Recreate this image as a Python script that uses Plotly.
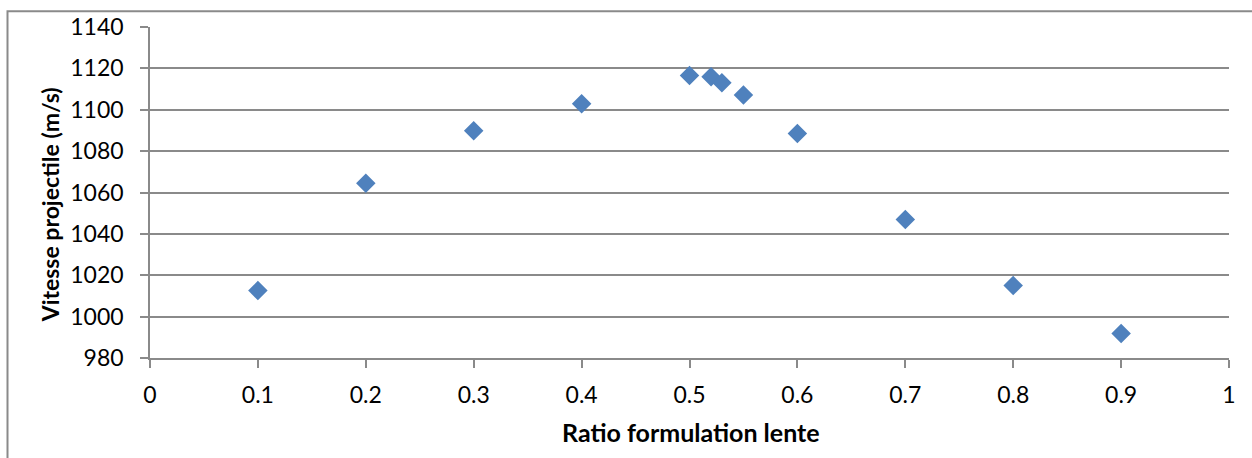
import plotly.graph_objects as go

# Data
ratio = [0.1, 0.2, 0.3, 0.4, 0.5, 0.52, 0.53, 0.55, 0.6, 0.7, 0.8, 0.9]
vitesse = [1012.6, 1064.5, 1089.8, 1102.9, 1116.6, 1116.0, 1113.1, 1107.1, 1088.5, 1046.9, 1015.0, 991.9]

x_ticks = [0, 0.1, 0.2, 0.3, 0.4, 0.5, 0.6, 0.7, 0.8, 0.9, 1]
x_tick_labels = ["0", "0.1", "0.2", "0.3", "0.4", "0.5", "0.6", "0.7", "0.8", "0.9", "1"]
y_ticks = [980, 1000, 1020, 1040, 1060, 1080, 1100, 1120, 1140]

x_title = "Ratio formulation lente"
y_title = "Vitesse projectile (m/s)"

W, H = 1252, 458
ML, MR, MT, MB = 150, 23, 22, 100
PW = W - ML - MR
PH = H - MT - MB

def px_x(p):
    return (p - ML) / PW

def px_y(p):
    return (H - MB - p) / PH

FONT = "Lato, 'Open Sans', 'Liberation Sans', sans-serif"
GRID = "#8a8a8a"

fig = go.Figure()
fig.add_trace(go.Scatter(
    x=ratio, y=vitesse, mode="markers",
    marker=dict(symbol="diamond", size=15, color="#4F81BD", line=dict(width=0)),
    showlegend=False, cliponaxis=False,
))

fig.update_layout(
    width=W, height=H,
    margin=dict(l=ML, r=MR, t=MT, b=MB),
    paper_bgcolor="white", plot_bgcolor="white",
    font=dict(family=FONT, size=23, color="black"),
    xaxis=dict(
        range=[0, 1], tickmode="array", tickvals=x_ticks, ticktext=x_tick_labels,
        showgrid=False, zeroline=False,
        showline=True, linecolor=GRID, linewidth=1.5,
        ticks="outside", ticklen=8, tickcolor=GRID, tickwidth=1.5,
        ticklabelstandoff=8,
        tickfont=dict(family=FONT, size=23, color="black"),
    ),
    yaxis=dict(
        range=[980, 1140], tickmode="array", tickvals=y_ticks,
        showgrid=True, gridcolor=GRID, gridwidth=1.5, zeroline=False,
        showline=True, linecolor=GRID, linewidth=1.5,
        ticks="outside", ticklen=8, tickcolor=GRID, tickwidth=1.5,
        ticklabelstandoff=12,
        tickfont=dict(family=FONT, size=23, color="black"),
    ),
    annotations=[
        dict(text="<b>" + x_title + "</b>", xref="paper", yref="paper",
             x=px_x(691), y=px_y(433), xanchor="center", yanchor="middle",
             showarrow=False, font=dict(family=FONT, size=25, color="black")),
        dict(text="<b>" + y_title + "</b>", xref="paper", yref="paper",
             x=px_x(50), y=px_y(203), xanchor="center", yanchor="middle",
             textangle=-90, showarrow=False,
             font=dict(family=FONT, size=23, color="black")),
    ],
    shapes=[
        dict(type="rect", xref="paper", yref="paper",
             x0=px_x(7.5), x1=px_x(W + 5), y0=px_y(H + 5), y1=px_y(6),
             line=dict(color=GRID, width=2), fillcolor="rgba(0,0,0,0)", layer="below"),
    ],
)

fig.write_html("out.html")
